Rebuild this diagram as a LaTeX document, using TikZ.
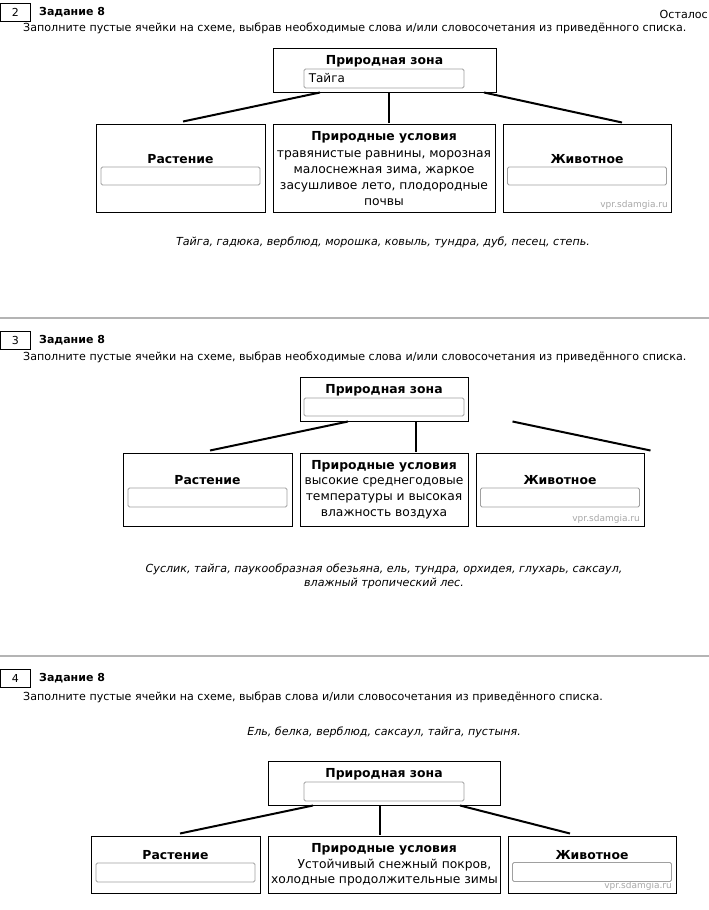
\documentclass[tikz,border=0pt]{standalone}
\usepackage{fontspec}
\setmainfont{DejaVu Sans}
\usetikzlibrary{calc}
\definecolor{fieldgray}{HTML}{A0A0A0}
\definecolor{sepgray}{HTML}{B4B4B4}
\definecolor{wmgray}{HTML}{A8A8A8}
\begin{document}
\begin{tikzpicture}[x=1pt,y=-1pt,
  box/.style={draw, line width=1pt, inner sep=0pt},
  field/.style={draw=fieldgray, rounded corners=1.5pt, line width=0.8pt, inner sep=0pt, minimum width=159pt, minimum height=19pt},
  conn/.style={line width=2pt},
  ttl/.style={font=\bfseries\fontsize{12.4}{14}\selectfont, inner sep=0pt},
  body/.style={font=\fontsize{12.3}{16}\selectfont, inner sep=0pt, align=center},
  ans/.style={font=\fontsize{12}{14}\selectfont, inner sep=0pt, anchor=west},
  numbox/.style={draw, line width=0.8pt, minimum width=29.5pt, minimum height=18pt, inner sep=0pt, font=\fontsize{11}{13}\selectfont},
  task/.style={font=\bfseries\fontsize{11}{13}\selectfont, inner sep=0pt, anchor=west},
  instr/.style={font=\fontsize{11.1}{13}\selectfont, inner sep=0pt, anchor=west},
  wordlist/.style={font=\itshape\fontsize{11.1}{14}\selectfont, inner sep=0pt, align=center},
  wm/.style={font=\fontsize{9}{10}\selectfont, text=wmgray, inner sep=0pt, anchor=east},
  sep/.style={draw=sepgray, line width=2pt}
]
\useasboundingbox (0,0) rectangle (709,910);
\fill[white] (0,0) rectangle (709,910);

% ---------------- Section 1 ----------------
\node[numbox] (n1) at (15.25,12) {2};
\node[task] (t1) at (39,12) {Задание 8};
\node[instr, anchor=east] (rest) at (708,14) {Осталос};
\node[instr] (i1) at (23,28) {Заполните пустые ячейки на схеме, выбрав необходимые слова и/или словосочетания из приведённого списка.};

\node[box, minimum width=223pt, minimum height=44pt] (z1) at (384.5,70) {};
\node[ttl] (z1t) at (384.5,61) {Природная зона};
\node[field, minimum width=160pt] (z1f) at (384,78.5) {};
\node[ans] (z1a) at ([xshift=5pt]z1f.west) {Тайга};

\node[box, minimum width=169pt, minimum height=88pt] (r1) at (180.5,168) {};
\node[ttl] (r1t) at (180.5,159) {Растение};
\node[field, minimum height=18pt] (r1f) at (180.5,176) {};

\node[box, minimum width=222pt, minimum height=88pt] (c1) at (384,168) {};
\node[ttl] (c1t) at (384,137) {Природные условия};
\node[body] (c1b) at (384,178) {травянистые равнины, морозная\\малоснежная зима, жаркое\\засушливое лето, плодородные\\почвы};

\node[box, minimum width=168pt, minimum height=88pt] (a1) at (587,168) {};
\node[ttl] (a1t) at (587,159) {Животное};
\node[field, minimum height=18pt] (a1f) at (587,176) {};
\node[wm] (w1) at (668,205) {vpr.sdamgia.ru};

\draw[conn] ([xshift=-64.5pt]z1.south) -- ([xshift=2.5pt,yshift=2pt]r1.north);
\draw[conn] ([xshift=4.5pt]z1.south) -- ([xshift=5pt,yshift=1pt]c1.north);
\draw[conn] ([xshift=99.5pt]z1.south) -- ([xshift=35pt,yshift=1pt]a1.north);

\node[wordlist] (l1) at (383,242) {Тайга, гадюка, верблюд, морошка, ковыль, тундра, дуб, песец, степь.};

\draw[sep] (0,318) -- (709,318);

% ---------------- Section 2 ----------------
\node[numbox] (n2) at (15.25,340) {3};
\node[task] (t2) at (39,340) {Задание 8};
\node[instr] (i2) at (23,357) {Заполните пустые ячейки на схеме, выбрав необходимые слова и/или словосочетания из приведённого списка.};

\node[box, minimum width=168pt, minimum height=44pt] (z2) at (384,399) {};
\node[ttl] (z2t) at (384,390) {Природная зона};
\node[field, minimum width=160pt, minimum height=18pt] (z2f) at (384,407) {};

\node[box, minimum width=169pt, minimum height=73pt] (r2) at (207.5,489.5) {};
\node[ttl] (r2t) at (207.5,480) {Растение};
\node[field] (r2f) at (207.5,497.5) {};

\node[box, minimum width=168pt, minimum height=73pt] (c2) at (384,489.5) {};
\node[ttl] (c2t) at (384,466) {Природные условия};
\node[body] (c2b) at (384,498) {высокие среднегодовые\\температуры и высокая\\влажность воздуха};

\node[box, minimum width=168pt, minimum height=73pt] (a2) at (560,489.5) {};
\node[ttl] (a2t) at (560,480) {Животное};
\node[field] (a2f) at (560,497.5) {};
\node[wm] (w2) at (640,519) {vpr.sdamgia.ru};

\draw[conn] ([xshift=-36pt]z2.south) -- ([xshift=2.5pt,yshift=2pt]r2.north);
\draw[conn] ([xshift=32pt]z2.south) -- ([xshift=32pt,yshift=1pt]c2.north);
\draw[conn] ([xshift=44pt]z2.south east) -- ([xshift=6pt,yshift=2pt]a2.north east);

\node[wordlist] (l2) at (384,576) {Суслик, тайга, паукообразная обезьяна, ель, тундра, орхидея, глухарь, саксаул,\\влажный тропический лес.};

\draw[sep] (0,656) -- (709,656);

% ---------------- Section 3 ----------------
\node[numbox] (n3) at (15.25,678.5) {4};
\node[task] (t3) at (39,678) {Задание 8};
\node[instr] (i3) at (23,697) {Заполните пустые ячейки на схеме, выбрав слова и/или словосочетания из приведённого списка.};
\node[wordlist] (l3) at (384,732) {Ель, белка, верблюд, саксаул, тайга, пустыня.};

\node[box, minimum width=232pt, minimum height=44pt] (z3) at (384,783) {};
\node[ttl] (z3t) at (384,774) {Природная зона};
\node[field, minimum width=160pt] (z3f) at (384,791.5) {};

\node[box, minimum width=169pt, minimum height=57pt] (r3) at (175.5,864.5) {};
\node[ttl] (r3t) at (175.5,855) {Растение};
\node[field] (r3f) at (175.5,872.5) {};

\node[box, minimum width=232pt, minimum height=57pt] (c3) at (384,864.5) {};
\node[ttl] (c3t) at (384,849) {Природные условия};
\node[body] (c3b1) at (394.5,865) {Устойчивый снежный покров,};
\node[body] (c3b2) at (384.5,881) {холодные продолжительные зимы};

\node[box, minimum width=168pt, minimum height=57pt] (a3) at (592,864.5) {};
\node[ttl] (a3t) at (592,855) {Животное};
\node[field] (a3f) at (592,872) {};
\node[wm] (w3) at (672,886) {vpr.sdamgia.ru};

\draw[conn] ([xshift=-71pt]z3.south) -- ([xshift=4.5pt,yshift=2pt]r3.north);
\draw[conn] ([xshift=-4pt]z3.south) -- ([xshift=-4pt,yshift=1pt]c3.north);
\draw[conn] ([xshift=76pt]z3.south) -- ([xshift=-22pt,yshift=2pt]a3.north);
\end{tikzpicture}
\end{document}
